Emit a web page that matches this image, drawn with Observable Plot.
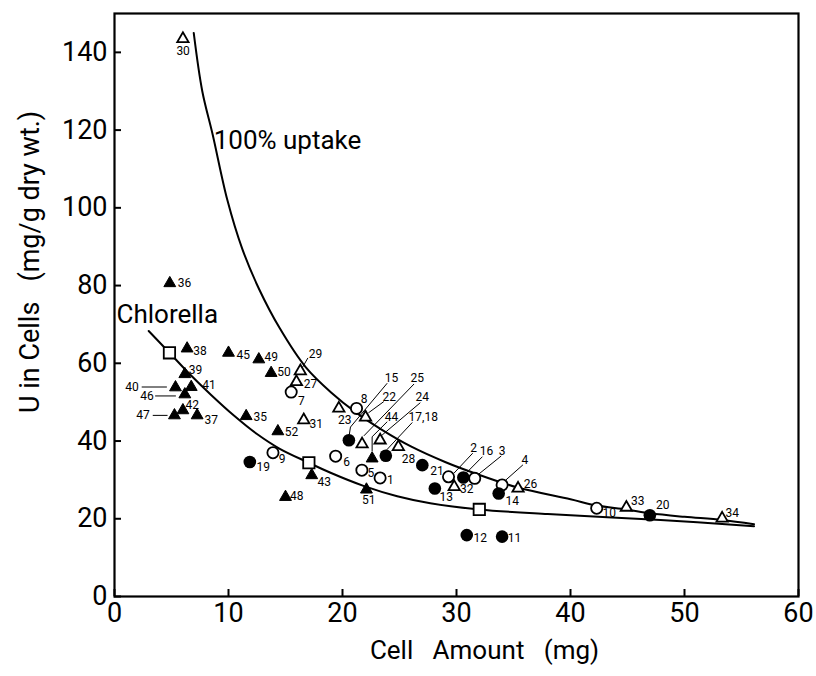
<!DOCTYPE html>
<html><head><meta charset="utf-8">
<script src="https://cdn.jsdelivr.net/npm/d3@7"></script>
<script src="https://cdn.jsdelivr.net/npm/@observablehq/plot@0.6"></script>
<style>body{margin:0;background:#fff} svg{white-space:pre}</style>
</head><body><div id="chart"></div>
<script>
const xTicks = [0, 10, 20, 30, 40, 50, 60];
const yTicks = [0, 20, 40, 60, 80, 100, 120, 140];

// [sample no., cell amount (mg), U in cells (mg/g dry wt.)]
const filledTriangles = [
  ["36", 4.85, 80.6], ["38", 6.37, 63.8], ["45", 10.0, 62.7], ["49", 12.66, 61.0],
  ["50", 13.74, 57.5], ["39", 6.17, 57.2], ["40", 5.35, 53.8], ["41", 6.73, 53.9],
  ["46", 6.17, 52.0], ["42", 6.0, 47.9], ["47", 5.26, 46.6], ["37", 7.25, 46.6],
  ["35", 11.55, 46.4], ["52", 14.33, 42.5], ["43", 17.3, 31.2], ["48", 15.0, 25.6],
  ["44", 22.6, 35.5], ["51", 22.1, 27.5]
];
const openTriangles = [
  ["30", 6.0, 143.5], ["29", 16.3, 58.0], ["27", 15.96, 55.2], ["31", 16.6, 45.4],
  ["23", 19.68, 48.4], ["22", 22.02, 46.1], ["25", 21.72, 39.2], ["24", 23.3, 40.2],
  ["28", 24.9, 38.5], ["32", 29.8, 28.2], ["26", 35.4, 27.8], ["33", 44.9, 22.9],
  ["34", 53.3, 20.1]
];
const openCircles = [
  ["7", 15.5, 52.6], ["9", 13.9, 37.0], ["8", 21.23, 48.4], ["6", 19.4, 36.1],
  ["5", 21.7, 32.5], ["1", 23.3, 30.5], ["2", 29.3, 30.8], ["3", 31.6, 30.4],
  ["4", 34.0, 28.7], ["10", 42.3, 22.7]
];
const filledCircles = [
  ["19", 11.87, 34.6], ["15", 20.56, 40.2], ["17,18", 23.8, 36.2], ["21", 27.0, 33.8],
  ["13", 28.1, 27.8], ["16", 30.6, 30.6], ["14", 33.7, 26.5], ["20", 46.96, 20.9],
  ["12", 30.9, 15.8], ["11", 34.0, 15.4]
];
const chlorellaSquares = [["C1", 4.82, 62.7], ["C2", 17.05, 34.4], ["C3", 32.0, 22.4]];

// curves: [x, y]
const uptake100 = [
  [6.95, 145], [7.7, 130], [8.6, 119], [9.9, 102], [11.2, 89.5], [12.7, 79], [14.5, 69],
  [16.75, 59.1], [19, 52.5], [21.2, 47.3], [23.5, 42.8], [26, 38.6], [29, 34.6],
  [31.6, 31.7], [35.3, 28.1], [40, 25.0], [42.3, 23.4], [44.9, 22.4], [47, 21.4],
  [50, 20.5], [53.3, 19.7], [56.1, 18.6]
];
const chlorellaCurve = [
  [3.0, 68.3], [4.82, 62.7], [6.5, 57.5], [8.5, 51.8], [10.5, 46.5], [12.5, 41.8],
  [14.5, 38.0], [17.05, 34.4], [18.9, 31.9], [21.9, 28.4], [24.8, 25.8], [27.7, 24.0],
  [32.0, 22.4], [38, 21.2], [47.9, 19.7], [56.1, 18.1]
];

// point labels: [text, x, y]
const labelsRight = [
  ["36", 5.55, 80.6], ["38", 6.9, 63.2], ["39", 6.52, 58.2], ["41", 7.69, 54.4],
  ["42", 6.23, 49.2], ["37", 7.9, 45.4], ["35", 12.2, 46.1], ["45", 10.7, 62.1],
  ["49", 13.16, 61.5], ["50", 14.27, 57.8], ["52", 14.94, 42.4], ["31", 17.1, 44.3],
  ["29", 17.05, 62.3], ["27", 16.6, 54.7], ["7", 16.1, 50.2], ["9", 14.4, 35.3],
  ["19", 12.46, 33.4], ["43", 17.8, 29.5], ["48", 15.4, 25.8], ["23", 19.6, 45.5],
  ["8", 21.6, 50.9], ["15", 23.7, 56.3], ["25", 25.96, 56.1], ["22", 23.5, 51.2],
  ["24", 26.4, 51.2], ["44", 23.7, 46.2], ["17,18", 25.8, 46.1], ["28", 25.2, 35.3],
  ["6", 20.06, 34.6], ["5", 22.2, 31.8], ["1", 23.9, 29.9], ["21", 27.7, 32.3],
  ["13", 28.5, 25.5], ["2", 31.2, 38.1], ["16", 32.05, 37.4], ["3", 33.7, 37.5],
  ["32", 30.3, 27.6], ["4", 35.7, 35.1], ["14", 34.3, 24.5], ["26", 35.9, 28.8],
  ["10", 42.8, 21.4], ["33", 45.3, 24.5], ["20", 47.5, 23.5], ["34", 53.6, 21.4],
  ["12", 31.5, 15.1], ["11", 34.5, 15.0]
];
const labelsLeft = [["40", 2.13, 53.9], ["46", 3.45, 51.5], ["47", 3.1, 46.6]];
const labelsCenter = [["30", 6.02, 140.4], ["51", 22.3, 24.8]];

// leader lines: [id, [[x, y], ...]]
const leaders = [
  ["40", [[2.42, 53.9], [4.56, 53.9]]],
  ["46", [[3.6, 51.6], [5.35, 51.6]]],
  ["47", [[3.39, 46.6], [4.62, 46.6]]],
  ["29", [[16.95, 61.3], [16.5, 59.0]]],
  ["15", [[23.9, 54.8], [20.7, 43.6], [20.6, 41.7]]],
  ["25", [[26.25, 54.6], [21.9, 41.4]]],
  ["22", [[23.6, 50.1], [22.3, 47.3]]],
  ["24", [[26.8, 49.8], [23.5, 41.6]]],
  ["44", [[23.9, 44.9], [22.6, 41.1], [22.6, 37.5]]],
  ["17,18", [[26.1, 44.7], [23.9, 37.8]]],
  ["2", [[31.4, 36.8], [29.8, 31.8]]],
  ["16", [[32.25, 35.9], [30.9, 31.9]]],
  ["3", [[33.9, 36.1], [32.0, 31.6]]],
  ["4", [[35.8, 33.8], [34.3, 29.9]]]
];

const curveNames = [["Chlorella", 0.18, 72.4], ["100% uptake", 8.7, 117.3]];
const xLabel = "Cell   Amount   (mg)";
const yLabel = "U in Cells   (mg/g dry wt.)";

const pts = a => a.map(([id, x, y]) => ({id, x, y}));
const leaderRows = leaders.flatMap(([id, p]) => p.map(([x, y]) => ({id, x, y})));
const curveRows = (name, a) => a.map(([x, y]) => ({name, x, y}));

const chart = Plot.plot({
  width: 816, height: 676,
  marginLeft: 114, marginRight: 18, marginTop: 13, marginBottom: 80,
  x: {domain: [0, 60]},
  y: {domain: [0, 150]},
  style: {fontFamily: "Roboto, sans-serif", background: "#fff", color: "#000"},
  marks: [
    Plot.axisX({ticks: xTicks, tickSize: -7, tickPadding: 13, fontSize: 27, label: null, strokeWidth: 2, tickFormat: d => d}),
    Plot.axisY({ticks: yTicks, tickSize: -7, tickPadding: 14, fontSize: 27, label: null, strokeWidth: 2, tickFormat: d => d}),
    Plot.line(curveRows("100", uptake100), {x: "x", y: "y", curve: "catmull-rom", stroke: "#000", strokeWidth: 2}),
    Plot.line(curveRows("chl", chlorellaCurve), {x: "x", y: "y", curve: "catmull-rom", stroke: "#000", strokeWidth: 2}),
    Plot.line(leaderRows, {x: "x", y: "y", z: "id", stroke: "#000", strokeWidth: 1}),
    Plot.frame({stroke: "#000", strokeWidth: 2.2}),
    Plot.dot(pts(filledTriangles), {x: "x", y: "y", symbol: "triangle", r: 4.4, fill: "#000", stroke: "#000", strokeWidth: 1}),
    Plot.dot(pts(openTriangles), {x: "x", y: "y", symbol: "triangle", r: 4.2, fill: "#fff", stroke: "#000", strokeWidth: 1.8}),
    Plot.dot(pts(openCircles), {x: "x", y: "y", symbol: "circle", r: 5.6, fill: "#fff", stroke: "#000", strokeWidth: 1.8}),
    Plot.dot(pts(filledCircles), {x: "x", y: "y", symbol: "circle", r: 6.3, fill: "#000"}),
    Plot.dot(pts(chlorellaSquares), {x: "x", y: "y", symbol: "square", r: 6.4, fill: "#fff", stroke: "#000", strokeWidth: 1.8}),
    Plot.text(pts(labelsRight), {x: "x", y: "y", text: "id", textAnchor: "start", fontSize: 12, fill: "#000"}),
    Plot.text(pts(labelsLeft), {x: "x", y: "y", text: "id", textAnchor: "end", fontSize: 12, fill: "#000"}),
    Plot.text(pts(labelsCenter), {x: "x", y: "y", text: "id", textAnchor: "middle", fontSize: 12, fill: "#000"}),
    Plot.text(pts(curveNames), {x: "x", y: "y", text: "id", textAnchor: "start", fontSize: 26, fill: "#000"}),
    Plot.text([xLabel], {frameAnchor: "bottom", dx: 28, dy: 62, fontSize: 26, fill: "#000"}),
    Plot.text([yLabel], {frameAnchor: "left", rotate: -90, dx: -84, dy: 108, fontSize: 27, fill: "#000"})
  ]
});
document.getElementById("chart").appendChild(chart);
</script>
</body></html>
